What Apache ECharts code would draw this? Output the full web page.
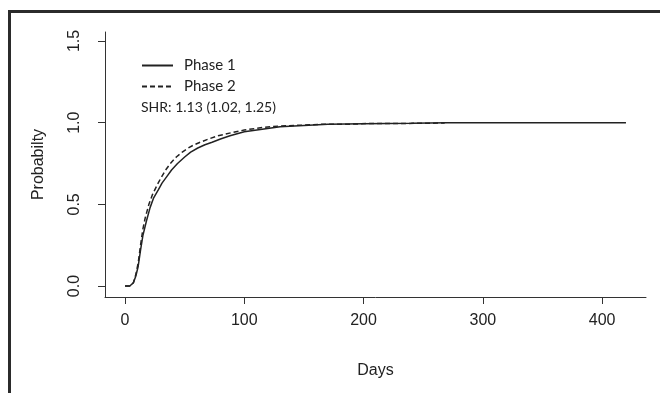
<!DOCTYPE html>
<html>
<head>
<meta charset="utf-8">
<script src="https://cdn.jsdelivr.net/npm/echarts@6/dist/echarts.min.js"></script>
<style>
  html, body { margin: 0; padding: 0; background: #fff; }
  #main { width: 660px; height: 393px; }
  #frame {
    position: absolute; left: 8px; top: 10px; width: 660px; height: 400px;
    border-top: 3px solid #2b2b2b; border-left: 3px solid #2b2b2b;
    pointer-events: none;
  }
</style>
</head>
<body>
<div id="main"></div>
<div id="frame"></div>
<script>
// cumulative probability, [day, probability]
const phase1 = [
  [0, 0], [4, 0], [7, 0.02], [9, 0.06], [11, 0.12], [13, 0.22], [15, 0.31],
  [18, 0.40], [21, 0.48], [24, 0.54], [28, 0.59], [31, 0.63], [35, 0.67],
  [39, 0.71], [44, 0.75], [50, 0.79], [55, 0.82], [61, 0.845], [67, 0.865],
  [73, 0.88], [80, 0.90], [88, 0.92], [100, 0.945], [115, 0.96], [130, 0.975],
  [150, 0.983], [170, 0.99], [200, 0.993], [240, 0.996], [270, 1.0], [420, 1.0]
];
const phase2 = [
  [0, 0], [4, 0], [7, 0.02], [9, 0.07], [11, 0.14], [13, 0.25], [15, 0.35],
  [17, 0.42], [20, 0.50], [23, 0.56], [27, 0.62], [30, 0.66], [34, 0.71],
  [38, 0.75], [43, 0.79], [48, 0.82], [53, 0.845], [58, 0.865], [63, 0.88],
  [70, 0.90], [78, 0.92], [90, 0.94], [100, 0.955], [115, 0.97], [130, 0.98],
  [150, 0.985], [165, 0.99], [185, 0.99], [205, 0.995], [230, 0.995], [268, 0.998]
];
const seriesNames = ['Phase 1', 'Phase 2'];
const xTicks = [0, 100, 200, 300, 400];
const yTicks = [0, 0.5, 1.0, 1.5];
const shrText = 'SHR: 1.13 (1.02, 1.25)';

const ink = '#222';
const axisFont = '"Liberation Sans", Arial, sans-serif';

const myChart = echarts.init(document.getElementById('main'));

const option = {
  animation: false,
  backgroundColor: '#fff',
  grid: { left: 105, right: 14, top: 32, bottom: 96 },
  legend: {
    data: seriesNames,
    orient: 'vertical',
    left: 136,
    top: 53,
    itemWidth: 31,
    itemHeight: 14,
    itemGap: 6,
    itemStyle: { opacity: 0 }, // hide the symbol, keep the line
    textStyle: { fontFamily: 'Lato', fontSize: 15, color: ink, padding: [0, 0, 0, 6] }
  },
  title: {
    text: shrText,
    left: 136,
    top: 95,
    textStyle: { fontFamily: 'Lato', fontSize: 14, fontWeight: 'normal', color: ink }
  },
  xAxis: {
    type: 'value',
    name: 'Days',
    nameLocation: 'middle',
    nameGap: 66,
    nameTextStyle: { fontFamily: axisFont, fontSize: 16, color: ink },
    min: -16.8,
    max: 436.8,
    splitLine: { show: false },
    axisLine: { onZero: false, lineStyle: { color: '#333', width: 1 } },
    axisTick: { customValues: xTicks, length: 7, lineStyle: { color: '#333' } },
    axisLabel: {
      customValues: xTicks, margin: 16,
      fontFamily: axisFont, fontSize: 16, color: ink
    }
  },
  yAxis: {
    type: 'value',
    name: 'Probabilty',
    nameLocation: 'middle',
    nameGap: 58,
    nameTextStyle: { fontFamily: axisFont, fontSize: 16, color: ink },
    min: -0.067,
    max: 1.555,
    splitLine: { show: false },
    axisLine: { show: true, onZero: false, lineStyle: { color: '#333', width: 1 } },
    axisTick: { show: true, customValues: yTicks, length: 7, lineStyle: { color: '#333' } },
    axisLabel: {
      customValues: yTicks, rotate: 90, margin: 22,
      fontFamily: axisFont, fontSize: 16, color: ink,
      formatter: (v) => v.toFixed(1)
    }
  },
  series: [
    {
      name: seriesNames[0],
      type: 'line',
      data: phase1,
      showSymbol: false,
      symbol: 'none',
      lineStyle: { color: ink, width: 1.5 },
      itemStyle: { color: ink }
    },
    {
      name: seriesNames[1],
      type: 'line',
      data: phase2,
      showSymbol: false,
      symbol: 'none',
      lineStyle: { color: ink, width: 1.5, type: [5, 3] },
      itemStyle: { color: ink }
    }
  ]
};

myChart.setOption(option);
</script>
</body>
</html>
